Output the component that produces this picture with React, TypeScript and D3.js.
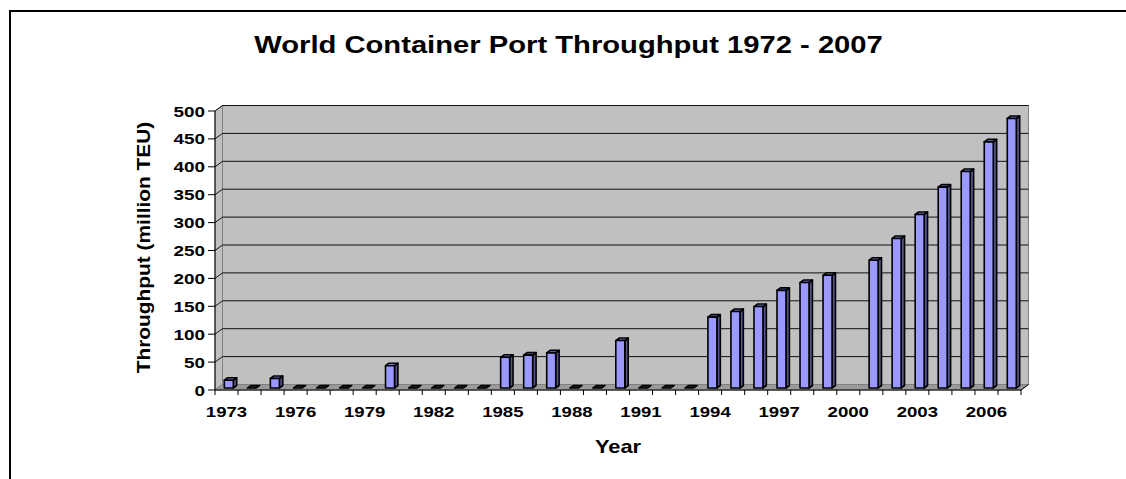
import React from "react";
import * as d3 from "d3";

const years: string[] = [
  "1973","1974","1975","1976","1977","1978","1979","1980","1981","1982","1983","1984",
  "1985","1986","1987","1988","1989","1990","1991","1992","1993","1994","1995","1996",
  "1997","1998","1999","2000","2001","2002","2003","2004","2005","2006","2007",
];
const throughput: (number | null)[] = [
  14, 0, 17, 0, 0, 0, 0, 40, 0, 0, 0, 0,
  55, 59, 63, 0, 0, 85, 0, 0, 0, 127, 137, 146,
  175, 189, 202, null, 229, 268, 311, 360, 388, 441, 483,
];
const yTicks: number[] = [0, 50, 100, 150, 200, 250, 300, 350, 400, 450, 500];
const xTickLabels: string[] = ["1973","1976","1979","1982","1985","1988","1991","1994","1997","2000","2003","2006"];

const TITLE = "World Container Port Throughput 1972 - 2007";
const Y_TITLE = "Throughput (million TEU)";
const X_TITLE = "Year";

const W = 1126, H = 479;
const FONT = "'Liberation Sans', Arial, sans-serif";

// plot geometry (front plane)
const PL = 215, PR = 1021, PT = 111, PB = 390;
const DX = 7.5, DY = -5.5; // depth of walls

// bar geometry
const BAR_W = 9, BAR_DX = 3.4, BAR_DY = -2.5, BAR_OFFX = 2.3, BAR_OFFY = -2;

export default function App() {
  const x = d3.scaleBand<string>().domain(years).range([PL, PR]).padding(0);
  const y = d3.scaleLinear().domain([0, 500]).range([PB, PT]);
  const bw = x.bandwidth();
  const pts = (a: [number, number][]) => a.map((p) => p.join(",")).join(" ");

  const bars = years.map((yr, i) => {
    const v = throughput[i];
    if (v === null) return null;
    const cx = (x(yr) as number) + bw / 2 + BAR_OFFX;
    const x0 = cx - BAR_W / 2, x1 = cx + BAR_W / 2;
    const yb = y(0) + BAR_OFFY;
    const yt = yb - (y(0) - y(v));
    if (v === 0) {
      return (
        <polygon key={yr} points={pts([[x0, yb], [x1, yb], [x1 + BAR_DX, yb + BAR_DY], [x0 + BAR_DX, yb + BAR_DY]])}
          fill="#222" stroke="#000" strokeWidth={1.4} strokeLinejoin="round" />
      );
    }
    return (
      <g key={yr} stroke="#000" strokeWidth={1.6} strokeLinejoin="round">
        <polygon points={pts([[x1, yb], [x1 + BAR_DX, yb + BAR_DY], [x1 + BAR_DX, yt + BAR_DY], [x1, yt]])} fill="#55558a" />
        <polygon points={pts([[x0, yt], [x1, yt], [x1 + BAR_DX, yt + BAR_DY], [x0 + BAR_DX, yt + BAR_DY]])} fill="#7b7bd6" />
        <rect x={x0} y={yt} width={BAR_W} height={yb - yt} fill="#9999ff" />
      </g>
    );
  });

  return (
    <svg width={W} height={H} style={{ position: "absolute", left: 0, top: 0, background: "#fff" }}>
      <rect x={0} y={0} width={W} height={H} fill="#fff" />
      {/* chart border */}
      <line x1={10} y1={11} x2={W} y2={11} stroke="#000" strokeWidth={2} />
      <line x1={10} y1={10} x2={10} y2={H} stroke="#000" strokeWidth={2} />

      {/* title */}
      <text transform={`translate(568.5,53) scale(1.27,1)`} textAnchor="middle" fontFamily={FONT} fontWeight="bold" fontSize={23} fill="#000">{TITLE}</text>

      {/* walls */}
      <rect x={PL + DX} y={PT + DY} width={PR - PL} height={PB - PT} fill="#c0c0c0" stroke="#808080" strokeWidth={1} />
      <polygon points={pts([[PL, PT], [PL + DX, PT + DY], [PL + DX, PB + DY], [PL, PB]])} fill="#c0c0c0" stroke="#808080" strokeWidth={1} />
      <polygon points={pts([[PL, PB], [PL + DX, PB + DY], [PR + DX, PB + DY], [PR, PB]])} fill="#9a9a9a" stroke="#808080" strokeWidth={1} />

      {/* gridlines */}
      {yTicks.filter((t) => t > 0).map((t) => (
        <g key={t} stroke="#111" strokeWidth={1}>
          <line x1={PL + DX} x2={PR + DX} y1={y(t) + DY} y2={y(t) + DY} />
          <line x1={PL} x2={PL + DX} y1={y(t)} y2={y(t) + DY} />
        </g>
      ))}

      {/* axes */}
      <line x1={PL} x2={PL} y1={PT} y2={PB} stroke="#000" strokeWidth={1} />
      <line x1={PL} x2={PR} y1={PB} y2={PB} stroke="#000" strokeWidth={1} />
      <line x1={PR} x2={PR + DX} y1={PB} y2={PB + DY} stroke="#000" strokeWidth={1} />
      {yTicks.map((t) => (
        <g key={t}>
          <line x1={PL - 7} x2={PL} y1={y(t)} y2={y(t)} stroke="#000" strokeWidth={1} />
          <text transform={`translate(${PL - 10},${y(t) + 5.5}) scale(1.26,1)`} textAnchor="end" fontFamily={FONT} fontWeight="bold" fontSize={15} fill="#000">{t}</text>
        </g>
      ))}
      {d3.range(years.length + 1).map((i) => {
        const xx = PL + i * bw;
        return <line key={i} x1={xx} x2={xx} y1={PB} y2={PB + 5} stroke="#000" strokeWidth={1} />;
      })}
      {xTickLabels.map((lab) => (
        <text key={lab} transform={`translate(${(x(lab) as number) + bw / 2},416.5) scale(1.2,1)`} textAnchor="middle" fontFamily={FONT} fontWeight="bold" fontSize={15.5} fill="#000">{lab}</text>
      ))}

      {/* bars */}
      {bars}

      {/* axis titles */}
      <text transform={`translate(618,452.5) scale(1.25,1)`} textAnchor="middle" fontFamily={FONT} fontWeight="bold" fontSize={17.5} fill="#000">{X_TITLE}</text>
      <text transform={`translate(150,247.5) rotate(-90) scale(1.16,1)`} textAnchor="middle" fontFamily={FONT} fontWeight="bold" fontSize={18} fill="#000">{Y_TITLE}</text>
    </svg>
  );
}
